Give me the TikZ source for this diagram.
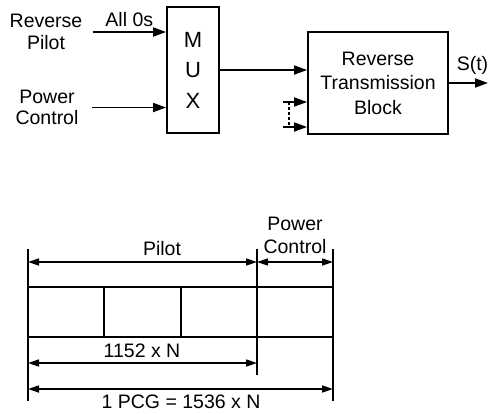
\documentclass[tikz,border=0pt]{standalone}
\usepackage{fontspec}
\setmainfont{Liberation Sans}
\usetikzlibrary{arrows.meta}
\begin{document}
\begin{tikzpicture}[x=1pt,y=-1pt,
  every node/.style={font=\fontsize{19.5}{23}\selectfont, inner sep=0pt},
  box/.style={draw, line width=1.8pt},
  conn/.style={line width=1.7pt, -{Triangle[length=13pt,width=9pt]}},
  dim/.style={line width=1.6pt, {Triangle[length=11pt,width=7pt]}-{Triangle[length=11pt,width=7pt]}},
  rule/.style={line width=1.6pt},
  lbl/.style={align=center}]
\useasboundingbox (0,0) rectangle (489,413);

% ---- top block diagram ----
\node[box, minimum width=52pt, minimum height=126pt, align=center,
      font=\fontsize{22}{30.5}\selectfont] (mux) at (193,70) {M\\U\\X};
\node[box, minimum width=140pt, minimum height=102pt, align=center,
      font=\fontsize{19.5}{24.5}\selectfont] (rtb) at (378,83) {Reverse\\Transmission\\Block};

\node[lbl, font=\fontsize{19.5}{22}\selectfont, inner xsep=10pt] (rp) at (46,32) {Reverse\\Pilot};
\node[lbl, font=\fontsize{19.5}{21.5}\selectfont, inner xsep=13.5pt] (pc) at (47,107.5) {Power\\Control};

\draw[conn] (rp.east) -- (rp.east -| mux.west)
  node[midway, anchor=base, yshift=5.5pt] (all0) {All 0s};
\draw[conn] (pc.east) -- (pc.east -| mux.west);
\draw[conn] (mux.east) -- (mux.east -| rtb.west);

\coordinate (st) at (488,83);
\draw[conn] (rtb.east) -- (st);
\node (stl) at (472.5,65) {S(t)};

\coordinate (d1) at (283,102);
\coordinate (d2) at (283,127);
\draw[conn] (d1) -- (d1 -| rtb.west);
\draw[conn] (d2) -- (d2 -| rtb.west);
\coordinate (v1) at (289,102);
\coordinate (v2) at (289,127);
\draw[line width=2.6pt, dash pattern=on 2.6pt off 2.4pt] (v1) -- (v2);

% ---- bottom frame diagram ----
\coordinate (lt) at (28,249);  \coordinate (lb) at (28,401);
\coordinate (mt) at (257,249); \coordinate (mb) at (257,375);
\coordinate (rt) at (333,249); \coordinate (rb) at (333,401);
\draw[rule] (lt) -- (lb);
\draw[rule] (mt) -- (mb);
\draw[rule] (rt) -- (rb);
\draw[rule] (28,287) rectangle (333,337);
\draw[rule] (104,287) -- (104,337);
\draw[rule] (181,287) -- (181,337);

\draw[dim] (28,262) -- (257,262);
\draw[dim] (257,262) -- (333,262);
\draw[dim] (28,363) -- (257,363);
\draw[dim] (28,389) -- (333,389);

\node (pilot) at (162,249) {Pilot};
\node[lbl] (pcl) at (295,235.5) {Power\\Control};
\node (n1152) at (142,351) {1152 x N};
\node (pcg) at (181,402) {1 PCG = 1536 x N};
\end{tikzpicture}
\end{document}
